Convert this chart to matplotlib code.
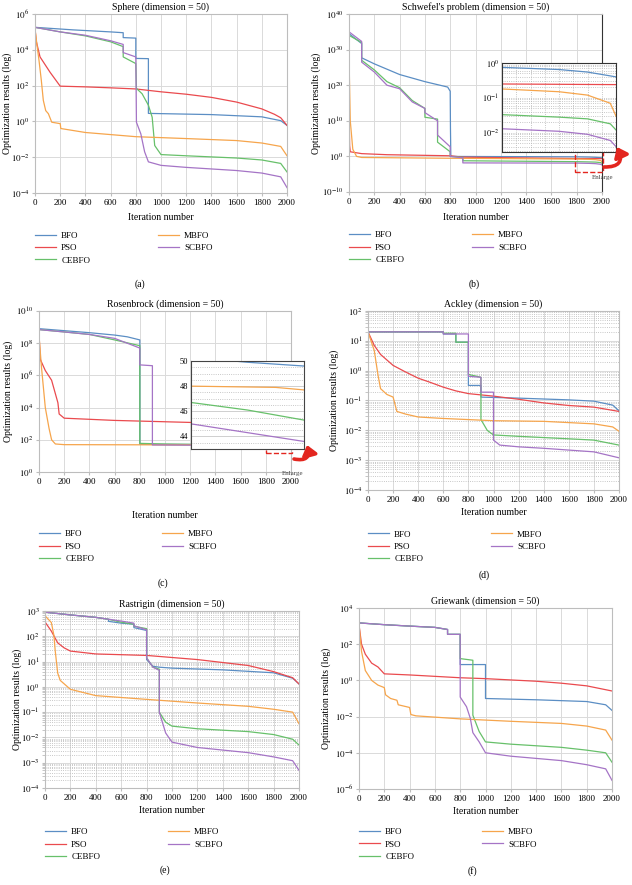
import numpy as np
import matplotlib
matplotlib.use('Agg')
import matplotlib.pyplot as plt
from matplotlib.patches import Rectangle, FancyArrowPatch
from matplotlib.ticker import FixedLocator, FuncFormatter, LogLocator, NullFormatter, NullLocator

plt.rcParams['font.family'] = ['Liberation Serif', 'DejaVu Serif']
plt.rcParams['mathtext.fontset'] = 'stix'

names = ['BFO', 'PSO', 'CEBFO', 'MBFO', 'SCBFO']
colors = ['#5b8ec4', '#ea4a4e', '#67c06a', '#f6a54c', '#a574c6']

# ---- (a) Sphere ----
sph_bfo = [(0, 1.8e5), (300, 1.3e5), (600, 1.0e5), (700, 9e4), (700, 4.8e4), (800, 4.5e4), (800, 3.3e3),
           (900, 3.2e3), (900, 2.8), (1400, 2.4), (1800, 1.8), (1950, 1.1), (2000, 0.6)]
sph_pso = [(0, 1.5e5), (10, 3e4), (40, 4e3), (120, 5.5e2), (200, 93), (400, 85), (600, 75), (800, 65),
           (1000, 45), (1200, 33), (1400, 22), (1600, 12), (1800, 5), (1900, 2.5), (1950, 1.6), (2000, 0.6)]
sph_cebfo = [(0, 1.8e5), (200, 1.0e5), (400, 6e4), (600, 2.8e4), (700, 1.5e4), (700, 4e3), (800, 1.7e3),
             (805, 70), (850, 35), (900, 8), (930, 1.7), (950, 0.045), (975, 0.025), (1000, 0.014),
             (1200, 0.012), (1600, 0.009), (1800, 0.007), (1950, 0.0045), (2000, 0.0015)]
sph_mbfo = [(0, 1.5e5), (15, 2e4), (32, 2.5e3), (50, 2e2), (66, 15), (85, 4), (106, 2.7), (133, 0.9),
            (200, 0.75), (205, 0.4), (400, 0.24), (800, 0.14), (1200, 0.11), (1600, 0.085), (1800, 0.062),
            (1950, 0.04), (2000, 0.012)]
sph_scbfo = [(0, 1.8e5), (200, 1.0e5), (400, 6.5e4), (600, 3.2e4), (700, 2e4), (700, 7e3), (800, 4e3),
             (805, 0.9), (840, 0.2), (870, 0.02), (900, 0.0055), (1000, 0.0035), (1200, 0.0027),
             (1600, 0.0018), (1800, 0.0013), (1950, 0.0008), (2000, 0.0002)]

# ---- (b) Schwefel ----
sch_bfo = [(0, 3e34), (100, 5e31), (100, 5e27), (200, 1e26), (400, 1e23), (600, 1e21), (780, 3e19),
           (800, 2e18), (802, 1e8), (805, 1.0), (900, 0.95), (1400, 0.85), (1800, 0.75), (1900, 0.65),
           (1950, 0.55), (2000, 0.4)]
sch_pso = [(0, 1e14), (5, 1e3), (10, 20), (100, 6), (300, 3), (800, 1.5), (900, 0.6), (1800, 0.25),
           (2000, 0.24)]
sch_cebfo = [(0, 1e34), (100, 1e32), (100, 1e27), (200, 2e24), (300, 1e21), (400, 2e19), (500, 5e15),
             (600, 3e13), (600, 1e11), (700, 3e10), (700, 1e4), (800, 2e1), (800, 1.0), (900, 0.5),
             (900, 0.06), (1800, 0.033), (1900, 0.028), (1950, 0.025), (1990, 0.018), (2000, 0.012)]
sch_mbfo = [(0, 1e28), (10, 1e10), (30, 1e2), (60, 1.0), (100, 0.5), (800, 0.3), (1800, 0.18),
            (1900, 0.15), (1950, 0.12), (1990, 0.07), (2000, 0.03)]
sch_scbfo = [(0, 1e35), (100, 2e32), (100, 3e26), (200, 5e23), (300, 1e20), (400, 1e19), (500, 2e15),
             (600, 3e13), (600, 2e12), (700, 1e10), (700, 1e6), (800, 5e2), (800, 1.0), (900, 0.4),
             (900, 0.015), (1800, 0.013), (1900, 0.011), (1950, 0.009), (1990, 0.006), (2000, 0.004)]

# ---- (c) Rosenbrock ----
ros_bfo = [(0, 8e8), (200, 6e8), (400, 4.5e8), (600, 3.2e8), (700, 2.5e8), (800, 1.6e8), (800, 52),
           (1200, 51), (1800, 50.3), (1900, 49.9), (2000, 49.6)]
ros_pso = [(0, 4e8), (10, 1e7), (50, 2e6), (100, 5e5), (150, 2e4), (160, 4e3), (200, 2.2e3), (600, 1.6e3),
           (1200, 1.2e3), (2000, 8e2)]
ros_cebfo = [(0, 7e8), (200, 5e8), (400, 3.5e8), (600, 1.6e8), (800, 7e7), (800, 60), (1000, 55),
             (1400, 50), (1800, 46.7), (1900, 46.1), (2000, 45.3)]
ros_mbfo = [(0, 3e8), (20, 3e6), (50, 1e4), (80, 5e2), (100, 1e2), (130, 55), (200, 50), (1000, 48.5),
            (1800, 48.0), (1950, 47.9), (2000, 47.7)]
ros_scbfo = [(0, 7e8), (200, 5e8), (400, 3.5e8), (600, 2e8), (800, 5e7), (800, 4.5e6), (900, 4e6),
             (900, 48), (1200, 46.5), (1800, 45.0), (1900, 44.3), (2000, 43.6)]

# ---- (d) Ackley ----
ack_bfo = [(0, 20), (600, 20), (600, 17), (700, 17), (700, 9), (800, 9), (800, 0.32), (900, 0.32),
           (900, 0.13), (1200, 0.12), (1600, 0.105), (1800, 0.095), (1950, 0.07), (2000, 0.045)]
ack_pso = [(0, 20), (50, 7), (100, 3.5), (200, 1.5), (300, 0.9), (400, 0.56), (500, 0.4), (600, 0.28),
           (700, 0.21), (800, 0.17), (1000, 0.14), (1200, 0.11), (1400, 0.083), (1600, 0.068),
           (1800, 0.06), (2000, 0.043)]
ack_cebfo = [(0, 20), (600, 20), (600, 18), (700, 18), (700, 9), (800, 9), (800, 0.75), (900, 0.6),
             (900, 0.023), (950, 0.01), (1000, 0.007), (1200, 0.0063), (1600, 0.0052), (1800, 0.0047),
             (2000, 0.0032)]
ack_mbfo = [(0, 20), (50, 4.7), (80, 0.7), (100, 0.25), (150, 0.16), (200, 0.13), (230, 0.043),
            (300, 0.035), (400, 0.028), (600, 0.025), (1000, 0.021), (1400, 0.02), (1800, 0.0165),
            (1950, 0.013), (2000, 0.0093)]
ack_scbfo = [(0, 20), (600, 20), (600, 17), (800, 17), (800, 0.65), (900, 0.6), (900, 0.19),
             (1000, 0.19), (1000, 0.0047), (1050, 0.0032), (1200, 0.0028), (1400, 0.0025),
             (1800, 0.0019), (2000, 0.0012)]

# ---- (e) Rastrigin ----
ras_bfo = [(0, 900), (200, 700), (400, 560), (500, 470), (500, 390), (600, 330), (700, 300), (700, 220),
           (800, 170), (800, 12), (850, 6.5), (900, 6), (1000, 5.5), (1400, 4.7), (1800, 3.6),
           (1950, 2.2), (2000, 1.3)]
ras_pso = [(0, 370), (50, 160), (100, 55), (150, 35), (200, 26), (400, 20), (800, 17.5), (1200, 12),
           (1600, 7), (1800, 4), (1950, 2.3), (2000, 1.3)]
ras_cebfo = [(0, 900), (200, 700), (400, 560), (500, 470), (600, 360), (700, 300), (700, 250),
             (800, 200), (800, 14), (850, 6), (900, 5), (900, 0.1), (950, 0.04), (1000, 0.028),
             (1200, 0.022), (1600, 0.017), (1800, 0.013), (1950, 0.0085), (2000, 0.005)]
ras_mbfo = [(0, 650), (50, 350), (70, 110), (80, 28), (100, 3.5), (120, 1.8), (200, 0.8), (400, 0.45),
            (800, 0.32), (1200, 0.23), (1600, 0.17), (1800, 0.13), (1950, 0.1), (2000, 0.035)]
ras_scbfo = [(0, 900), (200, 700), (400, 560), (600, 400), (700, 330), (700, 260), (800, 180),
             (800, 14), (850, 6), (900, 4.5), (900, 0.1), (950, 0.015), (1000, 0.0065), (1200, 0.004),
             (1600, 0.0025), (1800, 0.0017), (1950, 0.0012), (2000, 0.0005)]

# ---- (f) Griewank ----
gri_bfo = [(0, 1.5e3), (200, 1.2e3), (400, 1.0e3), (600, 8.5e2), (700, 6.5e2), (700, 3.5e2), (800, 3.5e2),
           (800, 7.5), (1000, 7.5), (1000, 0.1), (1400, 0.085), (1800, 0.068), (1950, 0.045), (2000, 0.022)]
gri_pso = [(0, 1.2e3), (20, 1e2), (50, 28), (100, 9), (150, 5.5), (200, 2.3), (400, 2.0), (800, 1.4),
           (1000, 1.25), (1400, 0.9), (1600, 0.7), (1800, 0.5), (2000, 0.26)]
gri_cebfo = [(0, 1.5e3), (200, 1.2e3), (400, 1e3), (600, 8.5e2), (700, 6.5e2), (700, 3.5e2), (800, 3.5e2),
             (800, 16), (900, 13), (900, 0.012), (950, 0.0015), (1000, 0.0004), (1200, 0.0003),
             (1600, 0.0002), (1800, 0.00014), (1950, 0.0001), (2000, 0.00003)]
gri_mbfo = [(0, 1.2e3), (20, 40), (50, 3.5), (100, 1.0), (150, 0.55), (200, 0.4), (210, 0.16), (250, 0.1),
            (300, 0.08), (310, 0.045), (400, 0.032), (410, 0.013), (450, 0.011), (800, 0.0075),
            (1200, 0.0055), (1600, 0.0042), (1800, 0.003), (1950, 0.0018), (2000, 0.0005)]
gri_scbfo = [(0, 1.5e3), (200, 1.2e3), (400, 1e3), (600, 8.5e2), (700, 6.5e2), (700, 3.5e2), (800, 3.5e2),
             (800, 0.12), (850, 0.035), (880, 0.008), (900, 0.0013), (950, 0.0004), (1000, 0.0001),
             (1200, 0.000065), (1600, 0.000037), (1800, 0.000022), (1950, 0.000013), (2000, 0.000003)]

W, H = 632, 885


def fx(x):
    return x / W


def fy(y):
    return 1 - y / H


def exp_fmt(v, pos):
    return r'$10^{%d}$' % int(round(np.log10(v)))


def draw(ax, series):
    for s, c, n in zip(series, colors, names):
        pts = np.array(s)
        ax.plot(pts[:, 0], pts[:, 1], color=c, lw=0.9, label=n)


def setup(ax, title, ylim, yticks, minor=False, leg_y=-0.22, xpad=3.5, ylab_x=-0.12):
    ax.set_yscale('log')
    ax.set_xlim(0, 2000)
    ax.set_ylim(ylim)
    ax.set_xticks(range(0, 2001, 200))
    ax.yaxis.set_major_locator(FixedLocator(yticks))
    ax.yaxis.set_major_formatter(FuncFormatter(exp_fmt))
    if minor:
        ax.yaxis.set_minor_locator(LogLocator(base=10, subs=np.arange(2, 10), numticks=50))
        ax.yaxis.set_minor_formatter(NullFormatter())
        ax.grid(which='minor', axis='y', ls=':', color='#b5b5b5', lw=0.6)
    else:
        ax.yaxis.set_minor_locator(NullLocator())
    ax.grid(which='major', color='#dadada', lw=0.7)
    ax.set_axisbelow(True)
    for sp in ax.spines.values():
        sp.set_color('#bdbdbd')
        sp.set_linewidth(0.8)
    ax.tick_params(which='both', length=2, color='#bdbdbd', labelsize=6.5, pad=2)
    ax.set_title(title, fontsize=7, pad=3)
    ax.set_xlabel('Iteration number', fontsize=7, labelpad=xpad)
    ax.set_ylabel('Optimization results (log)', fontsize=7)
    ax.yaxis.set_label_coords(ylab_x, 0.5)
    ax.legend(loc='upper left', bbox_to_anchor=(0, leg_y), ncol=2, frameon=False, fontsize=6.5,
              handlelength=2.3, handletextpad=0.6, columnspacing=7.5, labelspacing=0.45,
              borderpad=0, borderaxespad=0)


def curved_arrow(p0, p1):
    fig.add_artist(FancyArrowPatch((fx(p0[0]), fy(p0[1])), (fx(p1[0]), fy(p1[1])),
                                   transform=fig.transFigure, connectionstyle='arc3,rad=0.8',
                                   arrowstyle='-|>,head_length=0.7,head_width=0.55',
                                   mutation_scale=8, color=red, lw=2.6, shrinkA=0, shrinkB=0))


fig = plt.figure(figsize=(6.32, 8.85), dpi=100)

# panel rectangles in pixels: x0, x1, ytop, ybottom
rects = {
    'a': (35, 287, 14, 193),
    'b': (349, 602, 14, 192),
    'c': (39, 291, 311, 472),
    'd': (368, 619, 311, 490),
    'e': (45, 299, 611, 788),
    'f': (359, 612, 608, 789),
}
axs = {}
for k, (x0, x1, yt, yb) in rects.items():
    axs[k] = fig.add_axes([fx(x0), fy(yb), (x1 - x0) / W, (yb - yt) / H])

ax = axs['a']
draw(ax, [sph_bfo, sph_pso, sph_cebfo, sph_mbfo, sph_scbfo])
setup(ax, 'Sphere (dimension = 50)', (1e-4, 1e6), [1e-4, 1e-2, 1e0, 1e2, 1e4, 1e6], leg_y=-0.215,
      ylab_x=-0.093, xpad=5)

ax = axs['b']
draw(ax, [sch_bfo, sch_pso, sch_cebfo, sch_mbfo, sch_scbfo])
setup(ax, "Schwefel's problem (dimension = 50)", (1e-10, 1e40), [1e-10, 1e0, 1e10, 1e20, 1e30, 1e40],
      leg_y=-0.22, ylab_x=-0.109, xpad=5)
ax.spines['right'].set_color('#333333')

ax = axs['c']
draw(ax, [ros_bfo, ros_pso, ros_cebfo, ros_mbfo, ros_scbfo])
setup(ax, 'Rosenbrock (dimension = 50)', (1e0, 1e10), [1e0, 1e2, 1e4, 1e6, 1e8, 1e10], leg_y=-0.36,
      xpad=18, ylab_x=-0.105)

ax = axs['d']
draw(ax, [ack_bfo, ack_pso, ack_cebfo, ack_mbfo, ack_scbfo])
setup(ax, 'Ackley (dimension = 50)', (1e-4, 1e2), [1e-4, 1e-3, 1e-2, 1e-1, 1e0, 1e1, 1e2], minor=True,
      leg_y=-0.225, ylab_x=-0.115)

ax = axs['e']
draw(ax, [ras_bfo, ras_pso, ras_cebfo, ras_mbfo, ras_scbfo])
setup(ax, 'Rastrigin (dimension = 50)', (1e-4, 1e3), [1e-4, 1e-3, 1e-2, 1e-1, 1e0, 1e1, 1e2, 1e3],
      minor=True, leg_y=-0.226, ylab_x=-0.091)

ax = axs['f']
draw(ax, [gri_bfo, gri_pso, gri_cebfo, gri_mbfo, gri_scbfo])
setup(ax, 'Griewank (dimension = 50)', (1e-6, 1e4), [1e-6, 1e-4, 1e-2, 1e0, 1e2, 1e4], leg_y=-0.215,
      ylab_x=-0.11)

red = '#e3261f'

# enlarge box + inset for (b)
axs['b'].add_patch(Rectangle((1790, 4e-5), 220, 4e2 - 4e-5, fill=False, ec=red, ls='--', lw=1.0,
                             clip_on=False, zorder=5))
fig.text(fx(603), fy(177), 'Enlarge', fontsize=5, ha='center', va='center', color='#444444')
ib = fig.add_axes([fx(502), fy(152), 114 / W, 89 / H])
draw(ib, [sch_bfo, sch_pso, sch_cebfo, sch_mbfo, sch_scbfo])
ib.set_yscale('log')
ib.set_xlim(1800, 2000)
ib.set_ylim(2.8e-3, 1.0)
ib.yaxis.set_major_locator(FixedLocator([1e-2, 1e-1, 1e0]))
ib.yaxis.set_major_formatter(FuncFormatter(exp_fmt))
ib.yaxis.set_minor_locator(LogLocator(base=10, subs=np.arange(2, 10), numticks=50))
ib.yaxis.set_minor_formatter(NullFormatter())
ib.set_xticks(range(1800, 2001, 25))
ib.set_xticklabels([])
ib.grid(which='both', ls=':', color='#b5b5b5', lw=0.6)
ib.tick_params(which='both', length=0, labelsize=6, pad=2)
for sp in ib.spines.values():
    sp.set_color('#333333')
    sp.set_linewidth(0.8)
curved_arrow((604, 167), (617, 147))

# enlarge box + inset for (c)
axs['c'].add_patch(Rectangle((1800, 15), 210, 150 - 15, fill=False, ec=red, ls='--', lw=1.0,
                             clip_on=False, zorder=5))
fig.text(fx(293), fy(474), 'Enlarge', fontsize=5, ha='center', va='center', color='#444444')
ic = fig.add_axes([fx(191), fy(449), 113 / W, 88 / H])
draw(ic, [ros_bfo, ros_pso, ros_cebfo, ros_mbfo, ros_scbfo])
ic.set_xlim(1800, 2000)
ic.set_ylim(43, 50)
ic.set_yticks([44, 46, 48, 50])
ic.set_yticks(np.arange(43, 50.01, 0.5), minor=True)
ic.set_xticks([])
ic.grid(which='major', axis='y', color='#cfcfcf', lw=0.7)
ic.grid(which='minor', axis='y', ls=':', color='#b5b5b5', lw=0.6)
ic.tick_params(which='both', length=0, labelsize=6, pad=2)
for sp in ic.spines.values():
    sp.set_color('#444444')
    sp.set_linewidth(0.8)
curved_arrow((294, 459), (307, 445))

# captions
for lab, x, y in [('(a)', 140, 284), ('(b)', 474, 284), ('(c)', 163, 583), ('(d)', 484, 575),
                  ('(e)', 165, 870), ('(f)', 472, 871)]:
    fig.text(fx(x), fy(y), lab, fontsize=7, ha='center', va='center')

fig.savefig('out.png', dpi=100)
